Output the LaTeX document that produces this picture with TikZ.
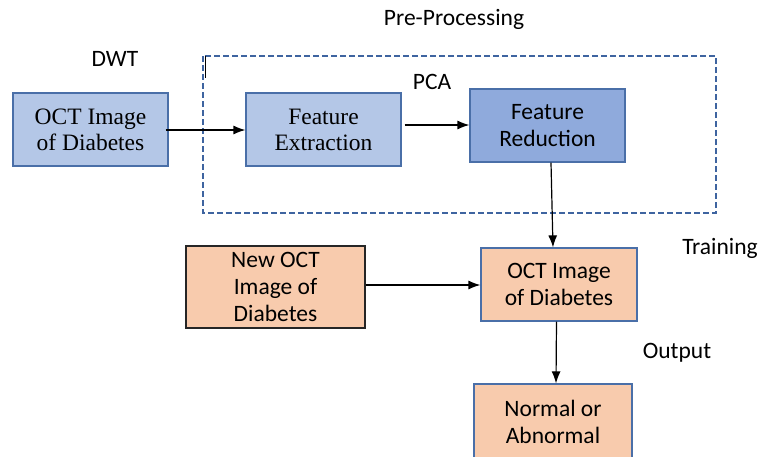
\documentclass[tikz,border=0pt]{standalone}
\usepackage{fontspec}
\setmainfont{Liberation Serif}
\newfontfamily\calib{Carlito}
\usetikzlibrary{arrows.meta}
\definecolor{lblue}{HTML}{B4C7E7}
\definecolor{mblue}{HTML}{8FAADC}
\definecolor{bord}{HTML}{4A6FA8}
\definecolor{peach}{HTML}{F8CBAD}
\definecolor{dashc}{HTML}{3E64A0}
\tikzset{
  box/.style={draw=bord, line width=1.2pt, minimum width=155pt, minimum height=73pt, inner sep=0pt, align=center},
  serifbox/.style={box, font=\fontsize{23.5}{26}\selectfont},
  sansbox/.style={box, font=\calib\fontsize{23.5}{27}\selectfont},
  lbl/.style={font=\calib\fontsize{23.5}{26}\selectfont, inner sep=0pt},
  arr/.style={-{Latex[length=12pt,width=9pt]}, line width=1.2pt, black}
}
\begin{document}
\begin{tikzpicture}[x=1pt,y=-1pt]
\useasboundingbox (0,0) rectangle (761,456);
\clip (0,0) rectangle (761,456);
\draw[dashc, dashed, line width=1.1pt, dash pattern=on 6pt off 3pt] (203,56) rectangle (716,213);
\draw[black, line width=1pt] (205,56) -- (205,78);
\node[lbl] (pre) at (454,19) {Pre-Processing};
\node[lbl] (dwt) at (115,59) {DWT};
\node[lbl] (pca) at (432,82) {PCA};
\node[lbl] (train) at (720,248) {Training};
\node[lbl] (out) at (677,353) {Output};
\node[serifbox, fill=lblue] (oct1) at (90.5,129.5) {OCT Image\\of Diabetes};
\node[serifbox, fill=lblue] (fe) at (323.5,129.5) {Feature\\Extraction};
\node[sansbox, fill=mblue] (fr) at (547.5,125.5) {Feature\\Reduction};
\node[sansbox, fill=peach, draw=black!85, minimum width=179pt, minimum height=82pt] (newoct) at (275.5,287) {New OCT\\Image of\\Diabetes};
\node[sansbox, fill=peach, minimum width=156pt] (oct2) at (559,284.5) {OCT Image\\of Diabetes};
\node[sansbox, fill=peach, minimum width=158pt, minimum height=76pt] (normal) at (553,422) {Normal or\\Abnormal};
\draw[arr] ([xshift=-3pt,yshift=-0.5pt]oct1.east) -- ([yshift=-0.5pt]fe.west);
\draw[arr] ([xshift=3pt,yshift=4.5pt]fe.east) -- ([yshift=0.5pt]fr.west);
\draw[arr] ([xshift=3.5pt]fr.south) -- ([xshift=-6pt]oct2.north);
\draw[arr] ([yshift=2pt]newoct.east) -- ([yshift=-0.5pt]oct2.west);
\draw[arr] ([xshift=-2.5pt]oct2.south) -- ([xshift=3pt]normal.north);
\end{tikzpicture}
\end{document}
